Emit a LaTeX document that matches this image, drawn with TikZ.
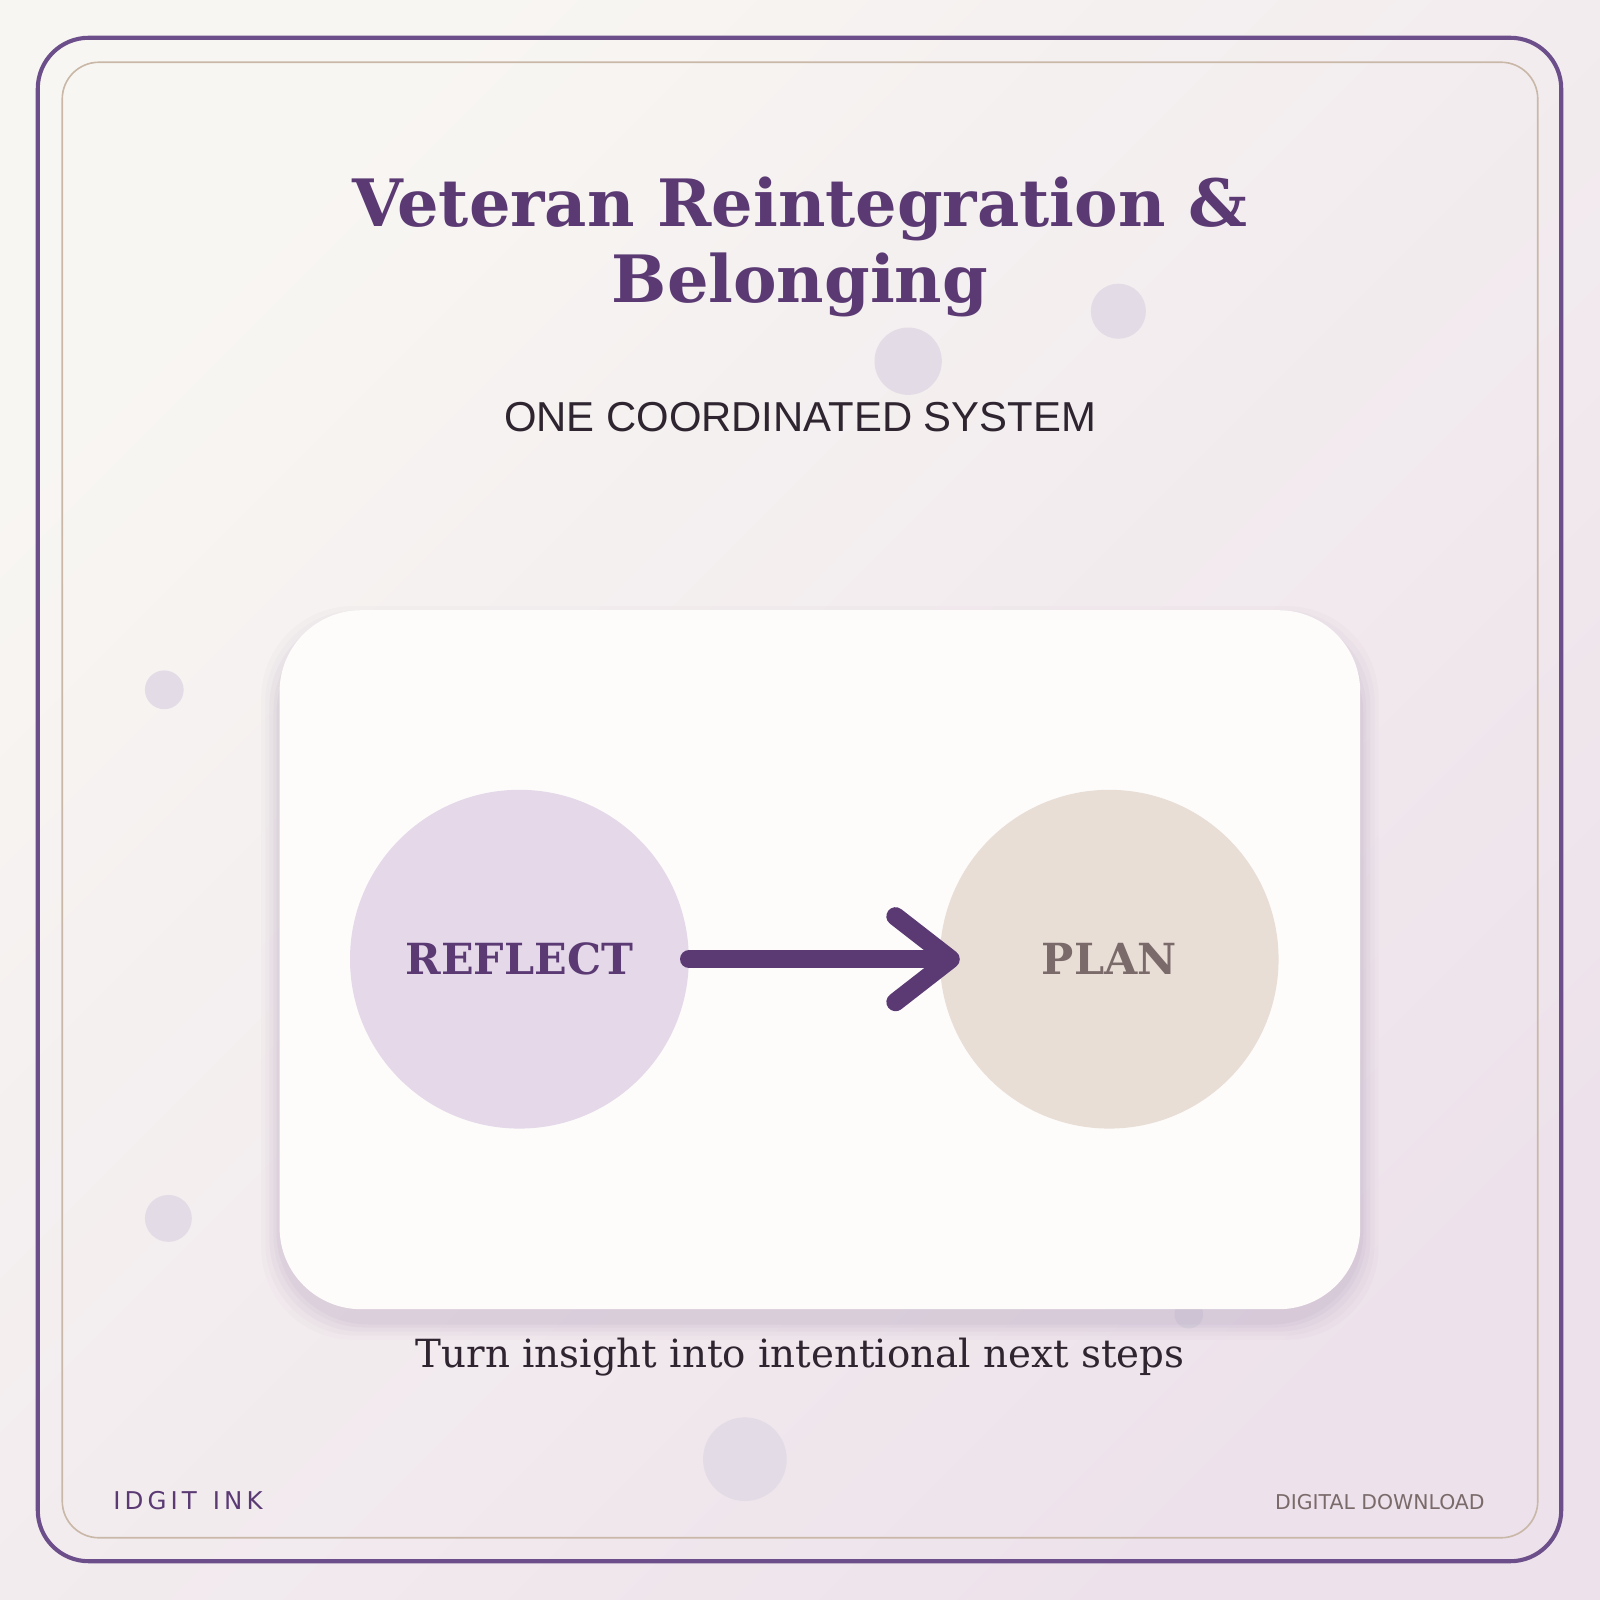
\documentclass[tikz,border=0pt]{standalone}
\usepackage{fontspec}
\setmainfont{DejaVu Serif}
\newfontfamily\subfont{Liberation Sans}
\newfontfamily\footfont{DejaVu Sans}
\usetikzlibrary{arrows.meta,calc}
\definecolor{purp}{HTML}{5B3A74}
\definecolor{bord}{HTML}{6B4E8A}
\definecolor{tan}{HTML}{C9B8A8}
\definecolor{ink}{HTML}{2E2530}
\definecolor{dot}{HTML}{E3DCE6}
\definecolor{bgA}{HTML}{F8F6F2}
\definecolor{bgB}{HTML}{EDE2EB}
\definecolor{lil}{HTML}{E4D8E9}
\definecolor{sand}{HTML}{E8DED6}
\definecolor{plan}{HTML}{7A6A6A}
\begin{document}
\begin{tikzpicture}[x=0.5pt,y=-0.5pt,
  deco/.style={fill=dot,draw=none},
  stage/.style={circle,minimum size=166pt,inner sep=0pt,font=\bfseries\fontsize{21}{25}\selectfont},
  flow/.style={draw=purp,line width=9pt,line cap=round,line join=round,-{Straight Barb[length=27pt,width=42pt,line cap=round,line join=round]}}]
\useasboundingbox (0,0) rectangle (1568,1568);
\shade[left color=bgA,right color=bgB,shading angle=45] (0,0) rectangle (1568,1568);
\draw[bord,line width=2pt,rounded corners=25pt] (37,37) rectangle (1530,1530);
\draw[tan,line width=0.8pt,rounded corners=18pt] (61,61) rectangle (1507,1507);
% decorative dots
\fill[deco] (890,354) circle (33);
\fill[deco] (1096,305) circle (27);
\fill[deco] (161,676) circle (19);
\fill[deco] (165,1194) circle (23);
\fill[deco] (730,1430) circle (41);
\fill[deco] (1165,1288) circle (14);
% title
\node[text=purp,font=\bfseries\fontsize{32}{37.5}\selectfont,align=center] (title) at (784,242) {Veteran Reintegration \&\\Belonging};
\node[text=ink,font=\subfont\fontsize{20.5}{24}\selectfont] (sub) at (784,409) {ONE COORDINATED SYSTEM};
% card shadow
\foreach \i/\o in {18/0.02,14/0.025,10/0.03,6/0.035,3/0.04}{
  \fill[purp,opacity=\o,rounded corners=45pt] (274-\i,598-\i+14) rectangle (1333+\i,1283+\i+12);}
\fill[white!70!bgA,rounded corners=40pt] (274,598) rectangle (1333,1283);
\node[stage,fill=lil,text=purp] (reflect) at (509,940) {REFLECT};
\node[stage,fill=sand,text=plan] (planN) at (1087,940) {PLAN};
\draw[flow] (reflect.east) -- ([xshift=10pt]planN.west);
\node[text=ink,font=\fontsize{19}{23}\selectfont] (cap) at (784,1330) {Turn insight into intentional next steps};
\node[text=purp,font=\footfont\fontsize{12}{14}\selectfont,anchor=west] (brand) at (104,1471) {I\,D\,G\,I\,T\, \,I\,N\,K};
\node[text=plan,font=\footfont\fontsize{10}{12}\selectfont,anchor=east] (dl) at (1462,1472) {DIGITAL DOWNLOAD};
\end{tikzpicture}
\end{document}
